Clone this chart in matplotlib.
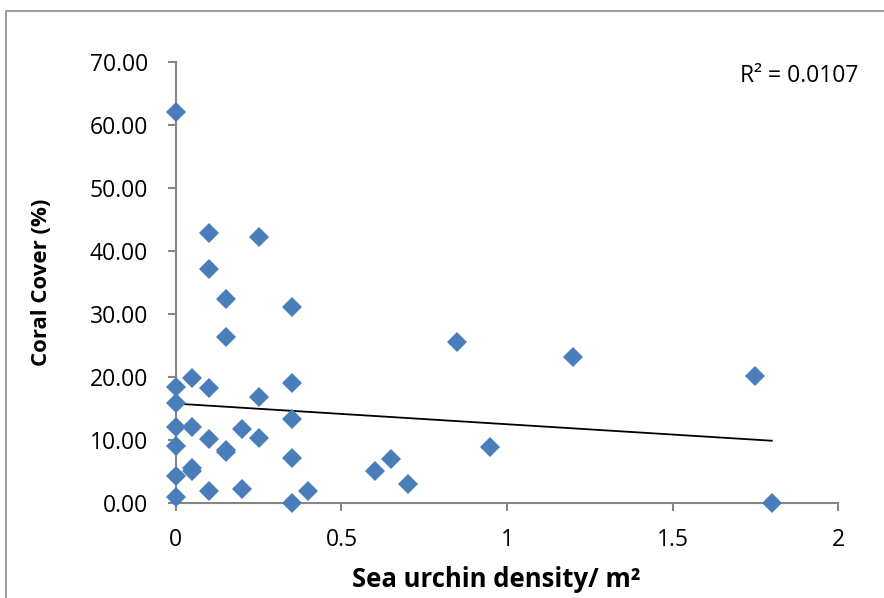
import numpy as np
import matplotlib.pyplot as plt
from matplotlib.patches import Rectangle

# sea urchin density (per m2) and coral cover (%) per quadrat
densidad = [0.0, 0.1, 0.25, 0.1, 0.15, 0.35, 0.15, 0.85, 1.2, 1.75, 1.8,
            0.4, 0.6, 0.65, 0.7, 0.95,
            0.05, 0.0, 0.1, 0.35, 0.25, 0.0, 0.35, 0.0, 0.05, 0.2, 0.25,
            0.1, 0.0, 0.15, 0.15, 0.35, 0.05, 0.05, 0.0, 0.1, 0.2, 0.0, 0.35]
coral = [62.0, 42.8, 42.1, 37.1, 32.3, 31.1, 26.3, 25.6, 23.2, 20.1, 0.0,
         1.95, 5.0, 7.0, 3.0, 8.9,
         19.8, 18.4, 18.2, 19.0, 16.8, 15.9, 13.3, 12.1, 12.1, 11.7, 10.3,
         10.1, 9.1, 8.4, 8.0, 7.1, 5.5, 5.0, 4.2, 1.95, 2.2, 1.0, 0.0]

# linea de tendencia (ordenada y pendiente)
ordenada = 15.75
pendiente = -3.27
r2_texto = 'R² = 0.0107'

x = np.array(densidad)
y = np.array(coral)

plt.rcParams['font.family'] = ['Open Sans', 'DejaVu Sans']

fig = plt.figure(figsize=(8.84, 5.98), dpi=100)
ax = fig.add_axes([0.199, 0.159, 0.749, 0.738])

# recuadro del area del grafico
fig.patches.append(Rectangle((0.007, -0.1), 1.2, 1.082, transform=fig.transFigure,
                             fill=False, edgecolor='#8c8c8c', linewidth=1.2))

ax.plot(x, y, 'D', color='#4A7EBB', markersize=10.5, markeredgewidth=0,
        zorder=5, clip_on=False)

xt = np.array([0.0, x.max()])
ax.plot(xt, ordenada + pendiente*xt, 'k-', linewidth=1.3, zorder=4)

ax.set_xlim(0, 2)
ax.set_ylim(0, 70)
ax.set_xticks([0, 0.5, 1, 1.5, 2])
ax.set_xticklabels(['0', '0.5', '1', '1.5', '2'])
ax.set_yticks(np.arange(0, 71, 10))
ax.set_yticklabels(['%.2f' % v for v in np.arange(0, 71, 10)])

for s in ['top', 'right']:
    ax.spines[s].set_visible(False)
for s in ['left', 'bottom']:
    ax.spines[s].set_color('#868686')
    ax.spines[s].set_linewidth(1.5)
ax.tick_params(axis='both', colors='#868686', labelcolor='black', labelsize=16.5,
               length=6, width=1.5, direction='out')
ax.tick_params(axis='y', pad=14)
ax.tick_params(axis='x', pad=12)

ax.set_xlabel('Sea urchin density/ m²', fontsize=18.5, fontweight='bold')
ax.set_ylabel('Coral Cover (%)', fontsize=16, fontweight='bold')
ax.xaxis.set_label_coords(0.484, -0.143)
ax.yaxis.set_label_coords(-0.187, 0.5)

ax.text(1.03, 0.968, r2_texto, transform=ax.transAxes, ha='right', va='center',
        fontsize=16.5)

fig.savefig('out.png', dpi=100)
